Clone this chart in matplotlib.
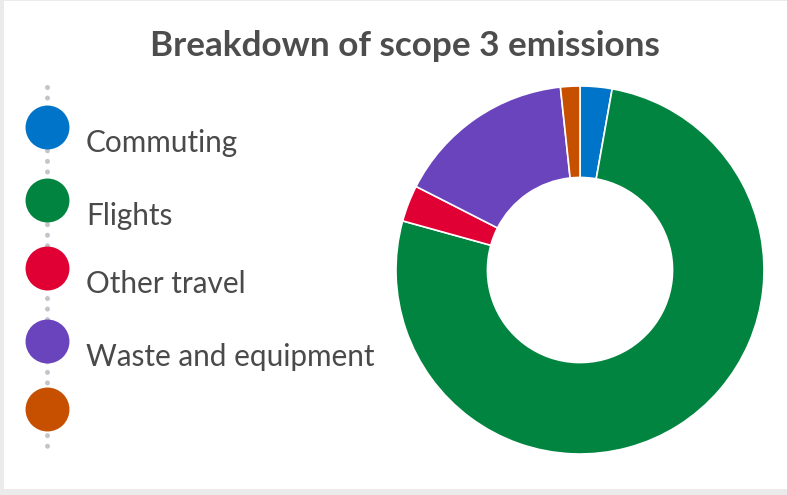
import matplotlib
matplotlib.use("Agg")
import matplotlib.pyplot as plt

W, H = 787, 495

title = "Breakdown of scope 3 emissions"
categories = ["Commuting", "Flights", "Other travel", "Waste and equipment", ""]
values = [2.8, 76.5, 3.2, 15.8, 1.7]
colors = ["#0074c8", "#00843f", "#e00034", "#6a44bc", "#c65000"]

plt.rcParams['font.family'] = ['Lato', 'DejaVu Sans']

fig = plt.figure(figsize=(W / 100, H / 100), dpi=100, facecolor="#ebebeb")

# white card
bg = fig.add_axes([4 / W, (H - 489) / H, (W - 4) / W, 488 / H])
bg.set_facecolor("white")
bg.set_xticks([]); bg.set_yticks([])
for s in bg.spines.values():
    s.set_visible(False)

# overlay axes in pixel coordinates
ov = fig.add_axes([0, 0, 1, 1])
ov.set_xlim(0, W); ov.set_ylim(H, 0)
ov.axis("off")
ov.patch.set_alpha(0)

ov.text(405, 46, title, ha="center", va="center", fontsize=25.3, fontweight="bold",
        color="#4d4d4d")

# legend dotted line
ov.plot([47, 47], [87, 452], color="#c4c4cc", linestyle=(0, (0.01, 2.1)),
        linewidth=3.6, solid_capstyle="round", dash_capstyle="round")
ys = [127, 200, 268, 341, 409]
for y, lab, col in zip(ys, categories, colors):
    ov.scatter([47], [y], s=1000, color=col, zorder=3, linewidths=0)
    if lab:
        ov.text(86, y + 16, lab, ha="left", va="center", fontsize=21.4, color="#4a4a4a")

# donut
R = 184
cx, cy = 580, 270
pa = fig.add_axes([(cx - R) / W, (H - cy - R) / H, 2 * R / W, 2 * R / H])
pa.pie(values, colors=colors, startangle=90, counterclock=False, radius=1,
       wedgeprops=dict(width=0.497, edgecolor="white", linewidth=1.2))
pa.set_xlim(-1, 1); pa.set_ylim(-1, 1)
pa.set_aspect("equal")
pa.axis("off")

fig.savefig("out.png", dpi=100, facecolor=fig.get_facecolor())
